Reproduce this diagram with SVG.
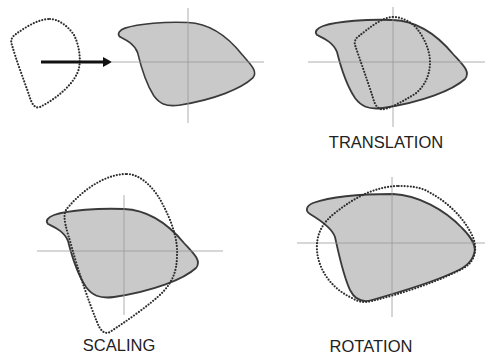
<svg xmlns="http://www.w3.org/2000/svg" width="485" height="354" viewBox="0 0 485 354">
<defs>
<style>
.shape{fill:#c9c9c9;stroke:#3a3a3a;stroke-width:1.8;stroke-linejoin:round}
.dots{fill:none;stroke:#2e2e2e;stroke-width:2.2;stroke-dasharray:0 3;stroke-linecap:round}
.axis{stroke:#9a9a9a;stroke-width:0.8;fill:none}
.lbl{font-family:"Liberation Sans",Arial,sans-serif;font-size:16.5px;fill:#222;text-anchor:middle}
</style>
<path id="blob" d="M -70,-36 C -55,-41 -25,-43 0,-42 C 25,-41 45,-26 60,-8 C 70,3 78,10 72,17 C 60,28 30,40 -10,46 C -25,48 -32,44 -38,36 C -46,24 -52,6 -56,-10 C -60,-20 -70,-24 -76,-27 C -79,-30 -76,-34 -70,-36 Z"/>
</defs>
<g id="original">
<use href="#blob" class="shape" transform="translate(188,62) scale(0.9,0.94)"/>
<path class="axis" d="M112,62 H264 M188,8 V123"/>
<path class="dots" d="M 50,19 C 58,19 68,26 74,35 C 79,45 81,58 79,68 C 76,82 58,98 40,107 C 35,109 32,104 30,98 C 24,80 16,60 12,45 C 10,40 12,37 16,34 C 26,27 38,19 50,19 Z"/>
</g>
<g id="connectors">
<line x1="41" y1="62" x2="104" y2="62" stroke="#111" stroke-width="3"/>
<polygon points="112,62 103,57 103,67" fill="#111"/>
</g>
<g id="translation">
<use href="#blob" class="shape" transform="translate(393,62)"/>
<path class="axis" d="M308,62 H485 M393,7 V127"/>
<path class="dots" d="M 393,17 C 402,17 412,22 418,30 C 424,38 430,50 430,62 C 430,75 425,86 415,94 C 405,100 395,106 385,109 C 378,111 375,105 373,98 C 368,82 360,60 355,45 C 354,41 356,38 359,36 C 368,29 382,17 393,17 Z"/>
<text class="lbl" x="386" y="148">TRANSLATION</text>
</g>
<g id="scaling">
<use href="#blob" class="shape" transform="translate(124,251)"/>
<path class="axis" d="M37,251 H223 M124,195 V315"/>
<path class="dots" d="M 127,174 C 140,174 155,188 163,205 C 172,222 178,240 177,255 C 177,272 172,282 163,292 C 150,305 125,322 110,332 C 104,335 100,330 97,322 C 88,300 78,270 72,248 C 67,230 62,218 66,210 C 75,198 100,174 127,174 Z"/>
<text class="lbl" x="119" y="351">SCALING</text>
</g>
<g id="rotation">
<path class="shape" d="M 313,203 C 330,197 360,194 393,194 C 418,195 445,210 462,228 C 472,238 477,246 474,254 C 471,264 462,269 450,274 C 430,283 400,292 372,300 C 362,303 355,300 350,290 C 343,275 339,255 335,237 C 332,228 320,220 310,214 C 305,211 306,206 313,203 Z"/>
<path class="axis" d="M297,243 H485 M392,177 V317"/>
<path class="dots" d="M 397,186 C 375,187 355,197 335,213 C 322,223 316,235 317,250 C 318,268 330,288 352,298 C 358,302 364,303 372,301 C 400,294 435,283 462,269 C 476,262 478,248 472,235 C 462,215 445,200 425,190 C 415,186 405,186 397,186 Z"/>
<text class="lbl" x="371" y="352">ROTATION</text>
</g>
</svg>
